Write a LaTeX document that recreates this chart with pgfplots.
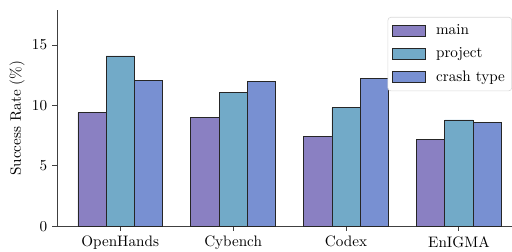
\documentclass[border=0pt]{standalone}
\usepackage{pgfplots}
\pgfplotsset{compat=1.18}
\definecolor{cmain}{HTML}{8A80C2}
\definecolor{cproj}{HTML}{72AAC8}
\definecolor{ccrash}{HTML}{7890D2}
\definecolor{axgray}{HTML}{404040}
\begin{document}
\begin{tikzpicture}
\begin{axis}[
  scale only axis,
  width=300pt, height=142.6pt,
  ymin=0, ymax=17.9,
  xmin=-0.56, xmax=3.47,
  xtick={0,1,2,3},
  xticklabels={OpenHands,Cybench,Codex,EnIGMA},
  ytick={0,5,10,15},
  axis x line*=bottom,
  axis y line*=left,
  axis line style={axgray, line width=0.6pt, -},
  tick style={axgray, line width=0.6pt},
  tick align=outside,
  major tick length=3pt,
  ylabel={Success Rate (\%)},
  ylabel style={yshift=-2pt},
  bar width=0.25,
  ybar=0pt,
  legend cell align=left,
  legend style={at={(1,0.968)}, anchor=north east, draw=black!15, rounded corners=2pt,
    font=\normalsize, row sep=3pt, inner xsep=2.5pt, inner ysep=3pt},
  legend image code/.code={\draw[#1, sharp corners] (0pt,-3.5pt) rectangle (22pt,3.5pt); \path[draw=none, fill=none] (0pt,0pt) -- (27pt,0pt);},
]
\addplot[fill=cmain, draw=black!85, line width=0.5pt, bar shift=-0.25] coordinates {(0,9.4) (1,9.0) (2,7.4) (3,7.2)};
\addplot[fill=cproj, draw=black!85, line width=0.5pt, bar shift=0] coordinates {(0,14.1) (1,11.1) (2,9.8) (3,8.8)};
\addplot[fill=ccrash, draw=black!85, line width=0.5pt, bar shift=0.25] coordinates {(0,12.1) (1,12.0) (2,12.2) (3,8.6)};
\legend{main,project,crash type}
\coordinate (bl) at (rel axis cs:0,0);
\coordinate (tr) at (rel axis cs:1,1);
\end{axis}
\pgfresetboundingbox
\useasboundingbox ([shift={(-37.6pt,-16.5pt)}]bl) rectangle ([shift={(0pt,6.6pt)}]tr);
\end{tikzpicture}
\end{document}
